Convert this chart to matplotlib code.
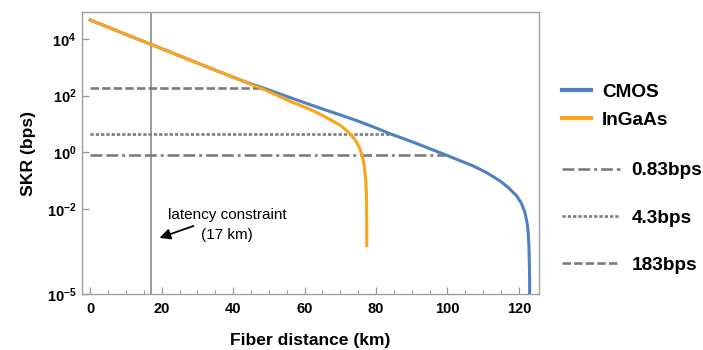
import numpy as np
import matplotlib
matplotlib.use('Agg')
import matplotlib.pyplot as plt
from matplotlib.lines import Line2D

plt.rcParams['font.family'] = 'Liberation Sans'
plt.rcParams['mathtext.fontset'] = 'custom'
plt.rcParams['mathtext.rm'] = 'Liberation Sans'
plt.rcParams['mathtext.bf'] = 'Liberation Sans:bold'

# values (distance in km, SKR as log10 of bps)
cmos_km = [0, 10, 20, 30, 40, 44, 48, 52, 56, 60, 65, 70, 75, 80, 84, 88, 92, 96, 99.3,
           103, 107, 111, 114.7, 117, 119.4, 120.7, 121.7, 122.3, 122.6, 122.8, 122.9, 123.0, 123.0]
cmos_log = [4.67, 4.16, 3.66, 3.15, 2.65, 2.46, 2.29, 2.11, 1.93, 1.75, 1.53, 1.32, 1.10, 0.86,
            0.65, 0.47, 0.28, 0.08, -0.08, -0.27, -0.47, -0.72, -1.01, -1.24, -1.54, -1.8,
            -2.13, -2.5, -2.83, -3.3, -3.77, -4.5, -5.2]

ingaas_km = [0, 10, 20, 30, 40, 44, 48, 52, 55.9, 60, 63, 65.3, 67.5, 69.9, 71.5, 72.7, 73.8,
             74.7, 75.4, 75.9, 76.3, 76.7, 76.95, 77.15, 77.3, 77.38, 77.42, 77.42]
ingaas_log = [4.67, 4.16, 3.66, 3.15, 2.65, 2.45, 2.25, 2.03, 1.80, 1.60, 1.43, 1.28, 1.13, 0.96,
              0.80, 0.66, 0.50, 0.33, 0.15, -0.03, -0.22, -0.48, -0.75, -1.05, -1.45, -1.95,
              -2.5, -3.29]

thr_vals = [0.83, 4.3, 183]
thr_end_km = [99.3, 83.6, 48.0]
thr_labels = ['0.83bps', '4.3bps', '183bps']

latency_km = 17

blue = '#5081BF'
orange = '#F9A41A'
gray = '#7c7c7c'
lw_thr = 1.9
thr_dashes = [(4.5, 1.5, 4.5, 1.5, 1.1, 1.5), (1.25, 0.75), (3.2, 1.2)]

fig = plt.figure(figsize=(7.03, 3.5), dpi=100)
ax = fig.add_axes([0.1166, 0.16, 0.65, 0.8057])

ax.axvline(latency_km, color='#8c8c8c', lw=1.2, zorder=1)
for v, xe, d in zip(thr_vals, thr_end_km, thr_dashes):
    ax.plot([0, xe], [v, v], color=gray, lw=lw_thr, dashes=d, zorder=2)

ax.plot(cmos_km, 10 ** np.array(cmos_log), color=blue, lw=2.2, zorder=3)
ax.plot(ingaas_km, 10 ** np.array(ingaas_log), color=orange, lw=2.2, zorder=4)

ax.set_yscale('log')
ax.set_xlim(-2.3, 125.6)
ax.set_ylim(1e-5, 10 ** 4.95)

yt = [1e-5, 1e-2, 1, 1e2, 1e4]
ax.set_yticks(yt, [r'$\mathbf{10^{-5}}$', r'$\mathbf{10^{-2}}$', r'$\mathbf{10^{0}}$',
                   r'$\mathbf{10^{2}}$', r'$\mathbf{10^{4}}$'])
ax.yaxis.set_minor_locator(matplotlib.ticker.NullLocator())
ax.set_xticks([0, 20, 40, 60, 80, 100, 120])
ax.set_xticks(np.arange(0, 125, 5), minor=True)
for lab in ax.get_xticklabels():
    lab.set_fontweight('bold')
ax.tick_params(axis='both', which='major', direction='in', length=5, width=0.9,
               color='#999999', labelsize=10.5, pad=6)
ax.tick_params(axis='x', which='minor', direction='in', length=2.7, width=0.8, color='#999999')
ax.tick_params(axis='y', pad=4)
for s in ax.spines.values():
    s.set_color('#a0a0a0')
    s.set_linewidth(1.0)

ax.set_xlabel('Fiber distance (km)', fontsize=12.6, fontweight='bold', labelpad=12)
ax.set_ylabel('SKR (bps)', fontsize=12.6, fontweight='bold', labelpad=8)

ax.annotate('', xy=(19.4, 10 ** -3.02), xytext=(28.9, 10 ** -2.6),
            arrowprops=dict(arrowstyle='-|>', color='black', lw=1.3, mutation_scale=16,
                            shrinkA=0, shrinkB=0))
ax.text(38.3, 10 ** -2.56, 'latency constraint\n(17 km)', ha='center', va='center',
        fontsize=11, linespacing=1.55)

h1 = [Line2D([], [], color=blue, lw=3), Line2D([], [], color=orange, lw=3)]
leg1 = fig.legend(h1, ['CMOS', 'InGaAs'], loc='center left', bbox_to_anchor=(0.7994, 0.697),
                  frameon=False, prop={'weight': 'bold', 'size': 13.7}, handlelength=1.5,
                  handletextpad=0.6, labelspacing=0.55, borderpad=0, borderaxespad=0)
h2 = [Line2D([], [], color=gray, lw=lw_thr, dashes=d) for d in thr_dashes]
leg2 = fig.legend(h2, thr_labels, loc='center left', bbox_to_anchor=(0.7994, 0.377),
                  frameon=False, prop={'weight': 'bold', 'size': 13.7}, handlelength=3.05,
                  handletextpad=0.6, labelspacing=1.58, borderpad=0, borderaxespad=0)

fig.savefig('out.png', dpi=100)
